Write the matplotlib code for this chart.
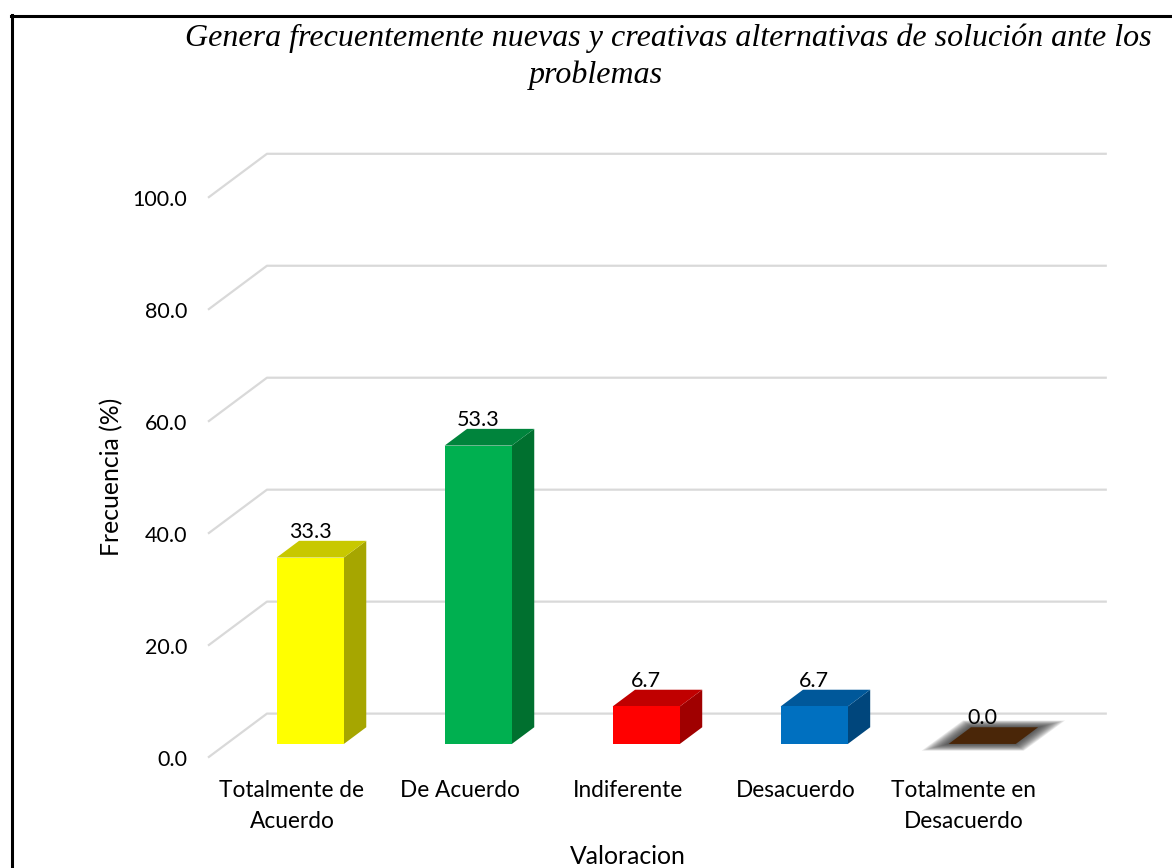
import matplotlib
matplotlib.use("Agg")
import matplotlib.pyplot as plt
from matplotlib.patches import Polygon
from matplotlib.lines import Line2D

categories = ["Totalmente de\nAcuerdo", "De Acuerdo", "Indiferente", "Desacuerdo",
              "Totalmente en\nDesacuerdo"]
values = [33.3, 53.3, 6.7, 6.7, 0.0]
y_ticks = [0, 20, 40, 60, 80, 100]
title_lines = ["Genera frecuentemente nuevas y creativas alternativas de solución ante los",
               "problemas"]

front_colors = ["#FFFF00", "#00B050", "#FF0000", "#0070C0", "#4A2608"]
top_colors = ["#C8C800", "#00843C", "#C00000", "#00589A", "#4A2608"]
side_colors = ["#A6A600", "#00702F", "#A00000", "#00467C", "#4A2608"]

W, H = 1172, 868
fig = plt.figure(figsize=(W / 100, H / 100), dpi=100)
fig.patch.set_facecolor("white")

# oblique projection: depth z in [0, 1] shifts points right and up
DX, DY = 0.351, 7.86
Z0, Z1 = 0.31, 0.69
HW = 0.2


def proj(x, y, z):
    return (x + z * DX, y + z * DY)


ax = fig.add_axes([208 / W, (H - 757.6) / H, 897 / W, 604.6 / H])
ax.set_xlim(-0.5, 4.84)
ax.set_ylim(0, 108)
for s in ax.spines.values():
    s.set_visible(False)
ax.set_facecolor("none")

font = "Lato"
ax.set_yticks(y_ticks)
ax.set_yticklabels([f"{t:.1f}" for t in y_ticks], fontsize=15.5, family=font)
ax.tick_params(axis="y", length=0, pad=15)
ax.set_xticks(range(len(categories)))
ax.set_xticklabels(categories, fontsize=16.3, family=font, linespacing=1.6)
ax.tick_params(axis="x", length=0, pad=16)
for lbl in ax.get_xticklabels():
    lbl.set_multialignment("center")

# floor/wall gridlines
for t in y_ticks:
    xs, ys = zip(proj(-0.5, t, 0), proj(-0.5, t, 1), proj(4.5, t, 1))
    ax.plot(xs, ys, color="#D9D9D9", lw=1.6, clip_on=False, zorder=1,
            solid_capstyle="butt")

for i, v in enumerate(values):
    l, r = i - HW, i + HW
    if v > 0:
        side = [proj(r, 0, Z0), proj(r, 0, Z1), proj(r, v, Z1), proj(r, v, Z0)]
        top = [proj(l, v, Z0), proj(r, v, Z0), proj(r, v, Z1), proj(l, v, Z1)]
        front = [proj(l, 0, Z0), proj(r, 0, Z0), proj(r, v, Z0), proj(l, v, Z0)]
        for pts, c in ((side, side_colors[i]), (top, top_colors[i]), (front, front_colors[i])):
            ax.add_patch(Polygon(pts, closed=True, facecolor=c, edgecolor="none",
                                 zorder=3, clip_on=False))
    else:
        # flat slab with soft shadow
        n = 14
        for k in range(n, 0, -1):
            e = 0.16 * k / n
            ey = 1.2 * k / n
            pts = [proj(l - e, v - ey, Z0), proj(r + e * 0.3, v - ey, Z0),
                   proj(r + e, v + ey, Z1), proj(l - e * 0.3, v + ey, Z1)]
            ax.add_patch(Polygon(pts, closed=True, facecolor="#333333", edgecolor="none",
                                 alpha=0.1, zorder=2, clip_on=False))
        top = [proj(l, v, Z0), proj(r, v, Z0), proj(r, v, Z1), proj(l, v, Z1)]
        ax.add_patch(Polygon(top, closed=True, facecolor=front_colors[i],
                             edgecolor="none", zorder=3, clip_on=False))
    lx, _ = proj(i, v, Z0)
    ax.text(lx, v + 7.0, f"{v:.1f}", ha="center", va="center", fontsize=15.5,
            family=font, zorder=5, clip_on=False)

fig.text(112 / W, 1 - 477 / H, "Frecuencia (%)", rotation=90, ha="center", va="center",
         fontsize=17.8, family=font)
fig.text(628 / W, 1 - 856 / H, "Valoracion", ha="center", va="center",
         fontsize=17.8, family=font)

fig.text(668 / W, 1 - 38 / H, title_lines[0], ha="center", va="center",
         fontsize=23, family="Liberation Serif", style="italic")
fig.text(596 / W, 1 - 75 / H, title_lines[1], ha="center", va="center",
         fontsize=23, family="Liberation Serif", style="italic")

# outer frame (left and top edges)
fig.add_artist(Line2D([11.5 / W, 11.5 / W], [0, 1 - 15 / H], transform=fig.transFigure,
                      color="black", lw=2.2))
fig.add_artist(Line2D([11 / W, 1], [1 - 15.5 / H, 1 - 15.5 / H], transform=fig.transFigure,
                      color="black", lw=2.2))

fig.savefig("out.png", dpi=100)
